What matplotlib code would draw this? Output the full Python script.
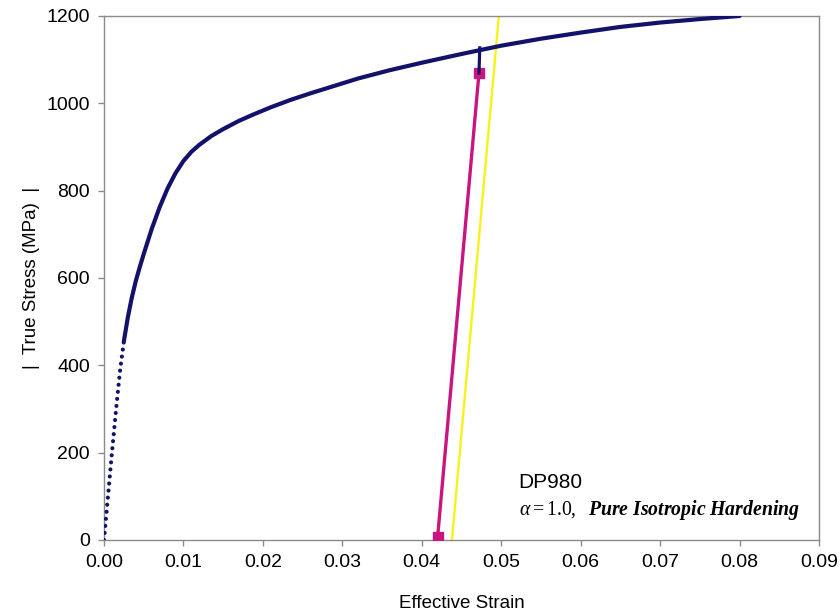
import matplotlib
matplotlib.use("Agg")
import matplotlib.pyplot as plt

# Flow curve of DP980 (effective strain vs. true stress, MPa)
strain = [0.0, 0.0005, 0.0010, 0.0015, 0.0020, 0.0025, 0.0030, 0.0035,
          0.0040, 0.0045, 0.0050, 0.0060, 0.0070, 0.0080, 0.0090, 0.0100,
          0.0110, 0.0120, 0.0135, 0.0150, 0.0170, 0.0190, 0.0210, 0.0235,
          0.0260, 0.0290, 0.0320, 0.0360, 0.0400, 0.0450, 0.0500, 0.0550,
          0.0600, 0.0650, 0.0700, 0.0750, 0.0800]
stress = [0, 100, 200, 295, 385, 455, 510, 555,
          593, 625, 655, 712, 762, 805, 840, 868,
          889, 905, 925, 941, 960, 976, 991, 1008,
          1023, 1040, 1057, 1076, 1093, 1113, 1132, 1148,
          1162, 1175, 1185, 1193, 1200]

# Elastic unloading path
unload_strain = [0.0472, 0.0420]
unload_stress = [1069, 8]
# Short link from the flow curve down to the unloading start
link_strain = [0.0473, 0.0472]
link_stress = [1127, 1069]

# Elastic line offset from the origin
offset_strain = [0.0438, 0.0497]
offset_stress = [0, 1200]

x_ticks = [0.00, 0.01, 0.02, 0.03, 0.04, 0.05, 0.06, 0.07, 0.08, 0.09]
y_ticks = [0, 200, 400, 600, 800, 1000, 1200]

plt.rcParams["font.family"] = ["Liberation Sans", "DejaVu Sans"]
plt.rcParams["mathtext.fontset"] = "custom"
plt.rcParams["mathtext.rm"] = "Liberation Serif"
plt.rcParams["mathtext.it"] = "Liberation Serif:italic"
plt.rcParams["mathtext.bf"] = "Liberation Serif:italic:bold"

fig = plt.figure(figsize=(8.4, 6.12), dpi=100)
ax = fig.add_axes([104 / 840, 72 / 612, 715 / 840, 524 / 612])

navy = "#12126b"
magenta = "#c8157f"

# Near-elastic part drawn as a row of dots, the rest as a solid line
split = stress.index(455)
ax.plot(strain[:split + 1], stress[:split + 1], color=navy, lw=3.0,
        linestyle=(0, (0.001, 1.7)), dash_capstyle="round", zorder=3)
ax.plot(strain[split:], stress[split:], color=navy, lw=3.0,
        solid_capstyle="round", solid_joinstyle="round", zorder=3)

ax.plot(offset_strain, offset_stress, color="#f7f21a", lw=1.7, zorder=2)
ax.plot(unload_strain, unload_stress, color=magenta, lw=2.4, marker="s",
        markersize=6.5, markevery=[0, 1], zorder=4)
ax.plot(link_strain, link_stress, color=navy, lw=2.3, zorder=4)

ax.set_xlim(0, 0.09)
ax.set_ylim(0, 1200)
ax.set_xticks(x_ticks)
ax.set_xticklabels([f"{v:.2f}" for v in x_ticks])
ax.set_yticks(y_ticks)
ax.set_yticklabels([str(v) for v in y_ticks])

for side in ["left", "right", "top", "bottom"]:
    ax.spines[side].set_color("#8a8a8a")
    ax.spines[side].set_linewidth(1.0)
ax.tick_params(axis="both", direction="out", length=4, width=1,
               color="#8a8a8a", labelsize=14, pad=6)

ax.set_xlabel("Effective Strain", fontsize=13.5, labelpad=17)
ax.set_ylabel("|  True Stress (MPa)  |", fontsize=13.5, labelpad=5)

ax.text(0.0522, 119, "DP980", fontsize=15, ha="left", va="baseline")
ax.text(0.0522, 57, r"$\alpha = 1.0,\ \ \mathbf{Pure\ Isotropic\ Hardening}$",
        fontsize=14.2, ha="left", va="baseline")

fig.savefig("out.png", dpi=100)
